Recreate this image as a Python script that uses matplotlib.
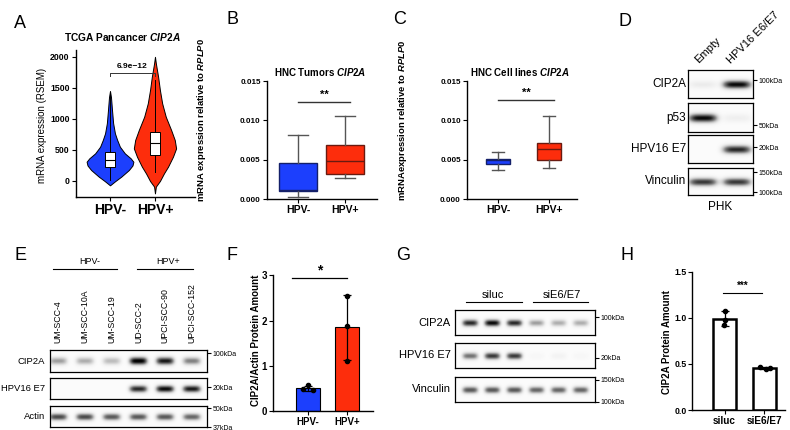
import numpy as np
import matplotlib
matplotlib.use('Agg')
import matplotlib.pyplot as plt
from matplotlib.lines import Line2D

W, H = 790, 430
plt.rcParams['font.family'] = ['Liberation Sans', 'DejaVu Sans']
plt.rcParams['mathtext.fontset'] = 'custom'
plt.rcParams['mathtext.it'] = 'Liberation Sans:italic:bold'
plt.rcParams['mathtext.rm'] = 'Liberation Sans:bold'

BLUE = '#1c3ffd'
RED = '#fd2d0c'

# ---- A: violin profiles (value, half width)
a_neg_y = [-70, 0, 70, 177, 250, 310, 365, 445, 552, 660, 767, 930, 1140, 1350, 1450]
a_neg_w = [0, 0.12, 0.25, 0.42, 0.5, 0.52, 0.46, 0.33, 0.22, 0.16, 0.11, 0.07, 0.045, 0.022, 0]
a_pos_y = [-200, -90, 0, 123, 230, 391, 525, 660, 820, 1035, 1250, 1464, 1678, 1893, 2000]
a_pos_w = [0, 0.02, 0.11, 0.2, 0.29, 0.4, 0.47, 0.44, 0.36, 0.24, 0.16, 0.11, 0.07, 0.02, 0]
a_box = [dict(med=339, q1=226, q3=468, whislo=20, whishi=1400, fliers=[]),
         dict(med=613, q1=419, q3=790, whislo=150, whishi=1620, fliers=[])]
a_groups = ['HPV-', 'HPV+']

# ---- B / C: box plot stats
b_box = [dict(med=0.00118, q1=0.00097, q3=0.00463, whislo=0.00025, whishi=0.00813, fliers=[]),
         dict(med=0.0048, q1=0.0032, q3=0.0069, whislo=0.00265, whishi=0.01053, fliers=[])]
c_box = [dict(med=0.0049, q1=0.00447, q3=0.00506, whislo=0.0037, whishi=0.006, fliers=[]),
         dict(med=0.00636, q1=0.00497, q3=0.00708, whislo=0.0039, whishi=0.01058, fliers=[])]

# ---- F / H: replicate values
f_neg = [0.57, 0.48, 0.47]
f_pos = [2.55, 1.88, 1.11]
h_groups = ['siluc', 'siE6/E7']
h_siluc = [1.08, 0.98, 0.92]
h_sie = [0.47, 0.45, 0.46]

# ---- blots: band intensities per lane
d_rows = ['CIP2A', 'p53', 'HPV16 E7', 'Vinculin']
d_bands = [[0.12, 0.95], [0.95, 0.1], [0.0, 0.85], [0.8, 0.8]]
d_lanes = ['Empty', 'HPV16 E6/E7']
e_rows = ['CIP2A', 'HPV16 E7', 'Actin']
e_bands = [[0.45, 0.4, 0.35, 1.0, 0.9, 0.55],
           [0.0, 0.0, 0.0, 0.85, 0.95, 0.9],
           [0.75, 0.75, 0.7, 0.7, 0.7, 0.65]]
e_lanes = ['UM-SCC-4', 'UM-SCC-10A', 'UM-SCC-19', 'UD-SCC-2', 'UPCI-SCC-90', 'UPCI-SCC-152']
g_rows = ['CIP2A', 'HPV16 E7', 'Vinculin']
g_bands = [[0.85, 0.95, 0.85, 0.45, 0.4, 0.4],
           [0.6, 0.8, 0.8, 0.04, 0.07, 0.04],
           [0.7, 0.7, 0.7, 0.65, 0.65, 0.65]]

fig = plt.figure(figsize=(7.9, 4.3), dpi=100)


def box(x0, y0, x1, y1):
    return fig.add_axes([x0 / W, 1 - y1 / H, (x1 - x0) / W, (y1 - y0) / H])


def txt(x, y, s, **kw):
    fig.text(x / W, 1 - y / H, s, **kw)


def hline(x0, x1, y, lw=0.8):
    fig.add_artist(Line2D([x0 / W, x1 / W], [1 - y / H, 1 - y / H], color='k', lw=lw))


def style(ax, lsize=6, bsize=7):
    for s in ['top', 'right']:
        ax.spines[s].set_visible(False)
    for s in ['left', 'bottom']:
        ax.spines[s].set_linewidth(1)
    ax.tick_params(length=3, width=0.8, pad=1.5)
    for t in ax.get_yticklabels():
        t.set_fontsize(lsize)
        t.set_fontweight('bold')
    for t in ax.get_xticklabels():
        t.set_fontsize(bsize)
        t.set_fontweight('bold')


def blot(rect, vals, xlim, label, lsize, half=0.4, sy=0.15, marks=None, msize=5):
    ax = box(*rect)
    xs = np.linspace(xlim[0], xlim[1], 300)
    ys = np.linspace(0, 1, 60)
    X, Y = np.meshgrid(xs, ys)
    img = np.full(X.shape, 0.03)
    for i, v in enumerate(vals):
        img += v * np.exp(-np.abs((X - i) / half) ** 4) * np.exp(-((Y - 0.48) / sy) ** 2)
    ax.imshow(img, cmap='Greys', vmin=0, vmax=1, extent=(xlim[0], xlim[1], 0, 1),
              origin='lower', aspect='auto', interpolation='bilinear')
    ax.set_xlim(xlim)
    ax.set_ylim(0, 1)
    ax.set_xticks([])
    if marks:
        ax.yaxis.tick_right()
        ax.set_yticks([m[0] for m in marks], [m[1] for m in marks])
        ax.tick_params(axis='y', length=3, width=0.8, pad=1, labelsize=msize)
    else:
        ax.set_yticks([])
    for s in ax.spines.values():
        s.set_linewidth(0.9)
    ax.text(-0.03, 0.5, label, transform=ax.transAxes, ha='right', va='center', fontsize=lsize)
    return ax


# ================= A
ax = box(76, 50, 195, 197)
for pos, yy, ww, c in [(1, a_neg_y, a_neg_w, BLUE), (2, a_pos_y, a_pos_w, RED)]:
    yy = np.array(yy)
    ww = np.array(ww)
    ax.fill_betweenx(yy, pos - ww, pos + ww, facecolor=c, edgecolor='black', lw=0.7)
ax.bxp(a_box, positions=[1, 2], widths=0.24, patch_artist=True, showfliers=False, showcaps=False,
       boxprops=dict(facecolor='white', edgecolor='black', lw=0.7),
       medianprops=dict(color='black', lw=0.8), whiskerprops=dict(color='black', lw=0.7))
ax.plot([1, 1, 2, 2], [1690, 1742, 1742, 1690], color='#333333', lw=0.7)
ax.text(1.5, 1790, '6.9e\u221212', ha='center', va='bottom', fontsize=6, fontweight='bold')
ax.set_xlim(0.244, 2.89)
ax.set_ylim(-258, 2110)
ax.set_yticks([0, 500, 1000, 1500, 2000])
ax.set_xticks([1, 2], a_groups)
style(ax, 6.3, 10)
txt(42, 125, 'mRNA expression (RSEM)', rotation=90, ha='center', va='center', fontsize=7)
txt(122, 37, r'TCGA Pancancer $\mathit{CIP2A}$', ha='center', va='center', fontsize=7.3, fontweight='bold')
txt(20, 23, 'A', ha='center', va='center', fontsize=13)

# ================= B and C
for (x0, x1, stats, width, xl, title, ylab, letter, lx, ylx, sig_x, sig_y) in [
        (267, 377, b_box, 0.82, (-0.66, 1.68), r'HNC Tumors $\mathit{CIP2A}$',
         r'mRNA expression relative to $\mathit{RPLP0}$', 'B', 233, 202, (0, 1.1), 0.01235),
        (467, 577, c_box, 0.47, (-0.61, 1.55), r'HNC Cell lines $\mathit{CIP2A}$',
         r'mRNAexpression relative to $\mathit{RPLP0}$', 'C', 400, 402, (0, 1.1), 0.01256)]:
    ax = box(x0, 81, x1, 199)
    bp = ax.bxp(stats, positions=[0, 1], widths=width, patch_artist=True, showfliers=False,
                whiskerprops=dict(color='#555555', lw=1), capprops=dict(color='#555555', lw=1),
                medianprops=dict(lw=1))
    for patch, med, c, e in zip(bp['boxes'], bp['medians'], [BLUE, RED], ['#14206a', '#6a1a10']):
        patch.set_facecolor(c)
        patch.set_edgecolor(e)
        patch.set_linewidth(1)
        med.set_color(e)
    ax.set_xlim(xl)
    ax.set_ylim(0, 0.015)
    ax.set_yticks([0, 0.005, 0.010, 0.015], ['0.000', '0.005', '0.010', '0.015'])
    ax.set_xticks([0, 1], a_groups)
    style(ax, 5.8, 7.5)
    ax.plot(sig_x, [sig_y, sig_y], color='#333333', lw=1)
    ax.text(np.mean(sig_x), sig_y + 0.0003, '**', ha='center', va='bottom', fontsize=8, fontweight='bold')
    cx = x0 + (x1 - x0) * 0.48
    txt(cx, 72, title, ha='center', va='center', fontsize=7, fontweight='bold')
    txt(ylx, 120, ylab, rotation=90, ha='center', va='center', fontsize=6.8, fontweight='bold')
    txt(lx, 20, letter, ha='center', va='center', fontsize=13)

# ================= D
d_xlim = (-0.44, 1.47)
d_rects = [(688, 70, 753, 98), (688, 103, 753, 132), (688, 135, 753, 163), (688, 168, 753, 195)]
d_marks = [[(0.64, '100kDa')], [(0.24, '50kDa')], [(0.57, '20kDa')], [(0.85, '150kDa'), (0.1, '100kDa')]]
for rect, vals, lab, mk in zip(d_rects, d_bands, d_rows, d_marks):
    blot(rect, vals, d_xlim, lab, 8.5, half=0.42, sy=0.15, marks=mk, msize=5)
for x, lab in zip([700, 732], d_lanes):
    txt(x, 65, lab, rotation=45, rotation_mode='anchor', ha='left', va='bottom', fontsize=8)
txt(720, 207, 'PHK', ha='center', va='center', fontsize=8.5)
txt(625, 22, 'D', ha='center', va='center', fontsize=13)

# ================= E
e_xlim = (-0.3, 5.56)
e_rects = [(50, 350, 207, 372), (50, 378, 207, 399), (50, 406, 207, 427)]
e_marks = [[(0.86, '100kDa')], [(0.55, '20kDa')], [(0.9, '50kDa'), (0.0, '37kDa')]]
for rect, vals, lab, mk in zip(e_rects, e_bands, e_rows, e_marks):
    blot(rect, vals, e_xlim, lab, 6.8, half=0.34, sy=0.17, marks=mk, msize=5)
for i, lab in enumerate(e_lanes):
    txt(58 + i * 26.8, 343, lab, rotation=90, ha='center', va='bottom', fontsize=6.3)
txt(90, 262, 'HPV-', ha='center', va='center', fontsize=6.5)
txt(168, 262, 'HPV+', ha='center', va='center', fontsize=6.5)
hline(53, 117, 269)
hline(137, 193, 269)
txt(20, 255, 'E', ha='center', va='center', fontsize=13)

# ================= F
ax = box(273, 273, 373, 411)
f_means = [np.mean(f_neg), np.mean(f_pos)]
f_sd = [np.std(f_neg, ddof=1), np.std(f_pos, ddof=1)]
ax.bar([0, 1], f_means, width=0.62, color=[BLUE, RED], edgecolor='black', lw=0.8)
ax.errorbar([0, 1], f_means, yerr=f_sd, fmt='none', ecolor='black', elinewidth=0.9, capsize=3, capthick=0.9)
ax.scatter(np.array([0, -0.12, 0.12]), f_neg, s=9, color='black', zorder=3)
ax.scatter(np.array([1, 1, 1]), f_pos, s=9, color='black', zorder=3)
ax.plot([-0.4, 1.0], [2.93, 2.93], color='black', lw=0.9)
ax.text(0.3, 2.96, '*', ha='center', va='bottom', fontsize=10, fontweight='bold')
ax.set_xlim(-0.9, 1.67)
ax.set_ylim(0, 3.05)
ax.set_yticks([0, 1, 2, 3])
ax.set_xticks([0, 1], a_groups)
ax.spines['left'].set_bounds(0, 3)
style(ax, 7, 7)
txt(256, 340, 'CIP2A/Actin Protein Amount', rotation=90, ha='center', va='center', fontsize=7, fontweight='bold')
txt(232, 255, 'F', ha='center', va='center', fontsize=13)

# ================= G
g_xlim = (-0.68, 5.68)
g_rects = [(455, 310, 595, 335), (455, 343, 595, 368), (455, 377, 595, 402)]
g_marks = [[(0.72, '100kDa')], [(0.4, '20kDa')], [(0.88, '150kDa'), (0.0, '100kDa')]]
for rect, vals, lab, mk in zip(g_rects, g_bands, g_rows, g_marks):
    blot(rect, vals, g_xlim, lab, 8, half=0.36, sy=0.14, marks=mk, msize=5)
txt(493, 295, 'siluc', ha='center', va='center', fontsize=8)
txt(562, 295, 'siE6/E7', ha='center', va='center', fontsize=8)
hline(466, 522, 302)
hline(533, 588, 302)
txt(403, 255, 'G', ha='center', va='center', fontsize=13)

# ================= H
ax = box(692, 270, 785, 410)
h_means = [np.mean(h_siluc), np.mean(h_sie)]
h_sd = [np.std(h_siluc, ddof=1), np.std(h_sie, ddof=1)]
ax.bar([0, 1], h_means, width=0.58, color='white', edgecolor='black', lw=1.8)
ax.errorbar([0, 1], h_means, yerr=h_sd, fmt='none', ecolor='black', elinewidth=0.9, capsize=3, capthick=0.9)
ax.scatter(np.array([0, 0, -0.02]), h_siluc, s=9, color='black', zorder=3)
ax.scatter(1 + np.array([-0.12, 0.05, 0.14]), h_sie, s=9, color='black', zorder=3)
ax.plot([-0.05, 0.95], [1.275, 1.275], color='black', lw=0.8)
ax.text(0.45, 1.29, '***', ha='center', va='bottom', fontsize=7, fontweight='bold')
ax.set_xlim(-0.82, 1.52)
ax.set_ylim(0, 1.52)
ax.set_yticks([0, 0.5, 1.0, 1.5], ['0.0', '0.5', '1.0', '1.5'])
ax.set_xticks([0, 1], h_groups)
ax.spines['left'].set_bounds(0, 1.5)
style(ax, 6.3, 7.2)
ax.tick_params(axis='y', pad=1)
txt(667, 342, 'CIP2A Protein Amount', rotation=90, ha='center', va='center', fontsize=7, fontweight='bold')
txt(627, 255, 'H', ha='center', va='center', fontsize=13)

fig.savefig('out.png', dpi=100)
